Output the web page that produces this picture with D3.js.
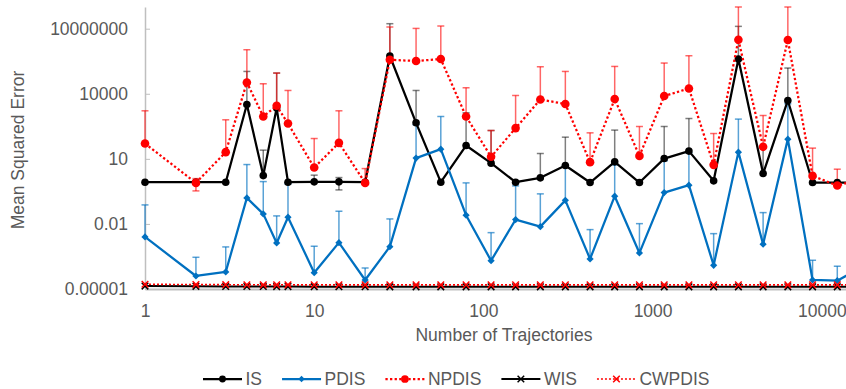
<!DOCTYPE html>
<html><head><meta charset="utf-8">
<script src="https://cdn.jsdelivr.net/npm/d3@7"></script>
<style>body{margin:0;background:#fff} text{font-family:"Liberation Sans",Arial,sans-serif}</style>
</head><body><svg id="c" width="846" height="389"></svg>
<script>
// ---- data ----
const trajectories = [1,2,3,4,5,6,7,10,14,20,28,40,56,79,111,155,217,305,427,597,836,1171,1639,2295,3214,4499,6299,8819,12346,17284];

const isMSE = [0.84,0.84,0.84,3206,1.69,2188,0.84,0.87,0.87,0.84,549500,458,0.84,41.1,6.33,0.84,1.33,4.91,0.81,7.27,0.81,10.3,22.7,0.97,399000,2.10,4910,0.81,0.81,0.81];
const isErr = [0,0,0,103800,23.5,88000,0,0.9,0.5,0,16450000,13740,0,1286,196,0,16.3,95,0,204,0,300,701,0,12400000,33.7,148600,0,0,0];

const pdisMSE = [0.00251,3.98e-5,6.1e-5,0.158,0.029,0.00133,0.0204,5.65e-5,0.00137,2.6e-5,8.95e-4,10.8,28,0.0252,2.02e-4,0.0158,0.0075,0.122,2.43e-4,0.19,4.6e-4,0.279,0.61,1.24e-4,20.4,0.00116,81.1,2.6e-5,2.42e-5,1.03e-4];
const pdisErr = [0.0728,2.5e-4,8.1e-4,5.3,0.866,0.0221,0.68,8.8e-4,0.0371,6.7e-5,0.0161,360,868,0.755,0.00376,0.552,0.2355,4.63,0.00522,5.09,0.00984,7.81,18.3,0.00344,659,0.0321,3369,1.85e-4,8.8e-5,8e-5];

const npdisMSE = [50.8,0.78,20.4,33200,896,2793,426,3.96,54.7,0.78,370700,322800,399000,896,12.4,261,5460,3350,7.04,5690,13.7,7830,17600,5.28,3100000,35.8,3000000,1.64,0.586,1.19];
const npdisErr = [1590,0.447,611,1040000,28000,87400,13770,82.5,1586,2.78,11600000,9980000,12900000,18000,190,8080,170500,103650,151,176300,296,253000,549400,141.7,97000000,960,97000000,29.6,2.75,0];

const wisMSE = [1.36e-5,1.33e-5,1.31e-5,1.3e-5,1.3e-5,1.29e-5,1.29e-5,1.28e-5,1.27e-5,1.27e-5,1.26e-5,1.26e-5,1.26e-5,1.26e-5,1.26e-5,1.26e-5,1.26e-5,1.26e-5,1.26e-5,1.26e-5,1.26e-5,1.26e-5,1.26e-5,1.26e-5,1.26e-5,1.26e-5,1.26e-5,1.26e-5,1.26e-5,1.26e-5];
const cwpdisMSE = [1.65e-5,1.6e-5,1.58e-5,1.57e-5,1.56e-5,1.56e-5,1.56e-5,1.55e-5,1.55e-5,1.55e-5,1.55e-5,1.55e-5,1.55e-5,1.55e-5,1.55e-5,1.55e-5,1.55e-5,1.55e-5,1.55e-5,1.55e-5,1.55e-5,1.55e-5,1.55e-5,1.55e-5,1.55e-5,1.55e-5,1.55e-5,1.55e-5,1.55e-5,1.55e-5];

const seriesNames = ["IS","PDIS","NPDIS","WIS","CWPDIS"];
const yTicks = [1e-5, 0.01, 10, 10000, 1e7];
const yTickLabels = ["0.00001","0.01","10","10000","10000000"];
const xTicks = [1,10,100,1000,10000];
const xTickLabels = ["1","10","100","1000","10000"];
const xTitle = "Number of Trajectories";
const yTitle = "Mean Squared Error";

// ---- layout ----
const svg = d3.select("#c");
const L = 145, R = 846, T = 7, B = 289;
const x = d3.scaleLog().domain([1, 13900]).range([L, R]);
const y = d3.scaleLog().domain([1e-5, 1e8]).range([B, T]);
const textCol = "#595959", axisCol = "#bfbfbf", FS = "17.5px";

const styles = {
  IS:     {vals: isMSE, err: isErr, color: "#000000", errColor: "rgba(0,0,0,0.5)", width: 2.25, dash: null, marker: "circle", r: 3.8},
  PDIS:   {vals: pdisMSE, err: pdisErr, color: "#0070C0", errColor: "rgba(0,112,192,0.65)", width: 2.25, dash: null, marker: "diamond", r: 3.6},
  NPDIS:  {vals: npdisMSE, err: npdisErr, color: "#FF0000", errColor: "rgba(255,0,0,0.6)", width: 2.25, dash: "2.3,2.3", marker: "circle", r: 4.3},
  WIS:    {vals: wisMSE, err: null, color: "#000000", width: 2, dash: null, marker: "x", r: 3.3},
  CWPDIS: {vals: cwpdisMSE, err: null, color: "#FF0000", width: 1.6, dash: "2,2", marker: "x", r: 3.3}
};

// axes
const yAxis = d3.axisLeft(y).tickValues(yTicks).tickFormat((d,i)=>yTickLabels[i]).tickSizeInner(-5).tickSizeOuter(0).tickPadding(17);
const gy = svg.append("g").attr("transform", `translate(${L},0)`).call(yAxis);
gy.select(".domain").attr("stroke", axisCol).attr("stroke-width", 1.5);
gy.selectAll(".tick line").attr("stroke", axisCol).attr("stroke-width", 1);
gy.selectAll(".tick text").attr("fill", textCol).style("font-size", FS).attr("dy","0.34em");

const xAxis = d3.axisBottom(x).tickValues(xTicks).tickFormat((d,i)=>xTickLabels[i]).tickSize(0).tickPadding(16);
const gx = svg.append("g").attr("transform", `translate(0,${B})`).call(xAxis);
gx.select(".domain").attr("stroke", axisCol).attr("stroke-width", 1.8);
gx.selectAll(".tick text").attr("fill", textCol).style("font-size", FS);

svg.append("text").attr("x", 504).attr("y", 341).attr("text-anchor","middle")
  .attr("fill", textCol).style("font-size", FS).text(xTitle);
svg.append("text").attr("transform","translate(24,150) rotate(-90)").attr("text-anchor","middle")
  .attr("fill", textCol).style("font-size", FS).text(yTitle);

function drawMarker(g, type, cx, cy, s, color) {
  if (type === "circle") g.append("circle").attr("cx", cx).attr("cy", cy).attr("r", s).attr("fill", color);
  else if (type === "diamond") g.append("path").attr("d", `M${cx},${cy-s}L${cx+s},${cy}L${cx},${cy+s}L${cx-s},${cy}Z`).attr("fill", color);
  else g.append("path").attr("d", `M${cx-s},${cy-s}L${cx+s},${cy+s}M${cx-s},${cy+s}L${cx+s},${cy-s}`).attr("stroke", color).attr("stroke-width", 1.5).attr("fill","none");
}

const data = name => trajectories.map((t,i)=>({t, v: styles[name].vals[i], e: styles[name].err ? styles[name].err[i] : 0}));

// error bars
const gErr = svg.append("g");
seriesNames.forEach(name => {
  const st = styles[name];
  if (!st.err) return;
  data(name).forEach(d => {
    if (!d.e) return;
    const cx = x(d.t), cy = y(d.v);
    const top = y(d.v + d.e);
    gErr.append("line").attr("x1",cx).attr("x2",cx).attr("y1",cy).attr("y2",top).attr("stroke",st.errColor).attr("stroke-width",1.5);
    gErr.append("line").attr("x1",cx-3.5).attr("x2",cx+3.5).attr("y1",top).attr("y2",top).attr("stroke",st.errColor).attr("stroke-width",1.5);
    if (d.v - d.e > 0) {
      const bot = y(d.v - d.e);
      gErr.append("line").attr("x1",cx).attr("x2",cx).attr("y1",cy).attr("y2",bot).attr("stroke",st.errColor).attr("stroke-width",1.5);
      gErr.append("line").attr("x1",cx-3.5).attr("x2",cx+3.5).attr("y1",bot).attr("y2",bot).attr("stroke",st.errColor).attr("stroke-width",1.5);
    }
  });
});

// lines + markers
const line = d3.line().x(d=>x(d.t)).y(d=>y(d.v));
seriesNames.forEach(name => {
  const st = styles[name];
  const g = svg.append("g");
  g.append("path").datum(data(name)).attr("d", line).attr("fill","none")
    .attr("stroke", st.color).attr("stroke-width", st.width)
    .attr("stroke-dasharray", st.dash).attr("stroke-linejoin","round");
  data(name).forEach(d => drawMarker(g, st.marker, x(d.t), y(d.v), st.r, st.color));
});

// legend
const lg = svg.append("g");
let lx = 203; const ly = 379;
seriesNames.forEach(name => {
  const st = styles[name];
  lg.append("line").attr("x1", lx).attr("x2", lx+39).attr("y1", ly).attr("y2", ly)
    .attr("stroke", st.color).attr("stroke-width", st.width).attr("stroke-dasharray", st.dash);
  drawMarker(lg, st.marker, lx+19.5, ly, st.marker==="diamond"?3.2:(st.marker==="x"?3.3:st.r*0.9), st.color);
  const t = lg.append("text").attr("x", lx+42.5).attr("y", ly).attr("dy","0.35em")
    .attr("fill", textCol).style("font-size", FS).text(name);
  lx += 42.5 + t.node().getComputedTextLength() + 20;
});
</script></body></html>
